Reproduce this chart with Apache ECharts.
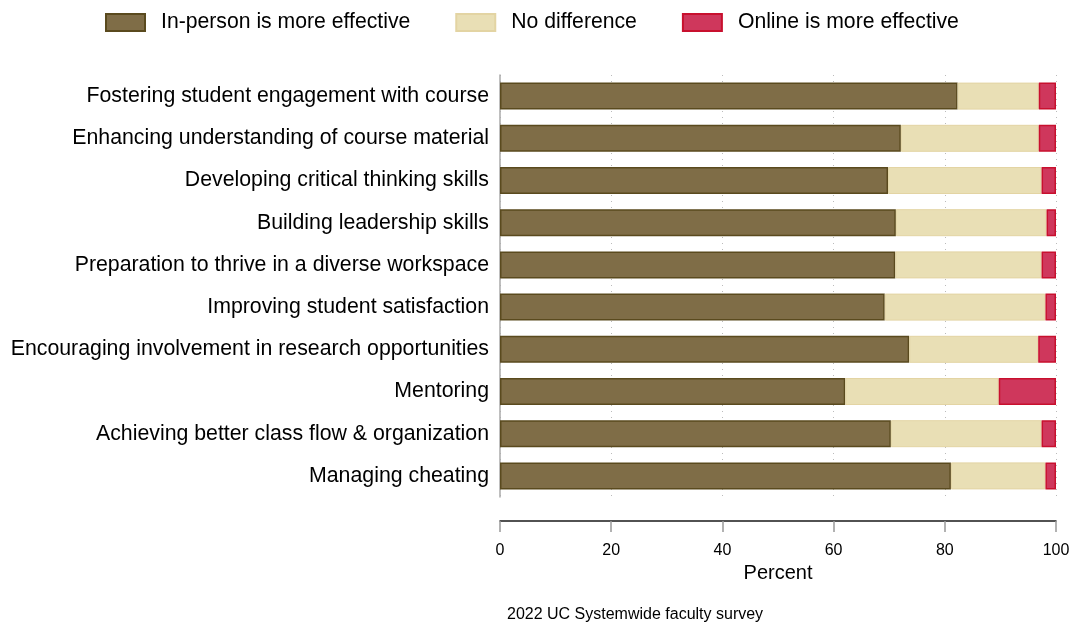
<!DOCTYPE html>
<html>
<head>
<meta charset="utf-8">
<script src="https://cdn.jsdelivr.net/npm/echarts@6/dist/echarts.min.js"></script>
<style>
html,body{margin:0;padding:0;background:#fff;}
#chart{width:1073px;height:625px;}
</style>
</head>
<body>
<div id="chart"></div>
<script>
var categories = [
  "Fostering student engagement with course",
  "Enhancing understanding of course material",
  "Developing critical thinking skills",
  "Building leadership skills",
  "Preparation to thrive in a diverse workspace",
  "Improving student satisfaction",
  "Encouraging involvement in research opportunities",
  "Mentoring",
  "Achieving better class flow & organization",
  "Managing cheating"
];
var seriesNames = ["In-person is more effective", "No difference", "Online is more effective"];
var inPerson = [82.3, 72.1, 69.8, 71.2, 71.1, 69.2, 73.6, 62.1, 70.3, 81.1];
var noDifference = [14.6, 24.8, 27.6, 27.1, 26.3, 28.9, 23.2, 27.6, 27.1, 17.0];
var online = [3.1, 3.1, 2.6, 1.7, 2.6, 1.9, 3.2, 10.3, 2.6, 1.9];
var xTicks = [0, 20, 40, 60, 80, 100];
var axisTitle = "Percent";
var caption = "2022 UC Systemwide faculty survey";

var FONT = "Liberation Sans, Arial, Helvetica, sans-serif";
var chart = echarts.init(document.getElementById('chart'), null, {renderer: 'canvas'});
var styles = [
  {color: '#7f6d47', borderColor: '#5a4a1e', borderWidth: 1.5},
  {color: '#e9dfb5', borderColor: '#e3d4a3', borderWidth: 1},
  {color: '#cf375c', borderColor: '#c8102e', borderWidth: 1.5}
];
var dataSets = [inPerson, noDifference, online];
var series = dataSets.map(function (d, i) {
  return {
    name: seriesNames[i],
    type: 'bar',
    stack: 'total',
    barWidth: 27,
    data: d,
    itemStyle: styles[i],
    emphasis: {disabled: true}
  };
});

chart.setOption({
  animation: false,
  backgroundColor: '#ffffff',
  textStyle: {fontFamily: FONT},
  legend: {
    left: 105,
    top: 12,
    padding: 0,
    itemWidth: 39,
    itemHeight: 17,
    itemGap: 45,
    icon: 'rect',
    textStyle: {fontSize: 21.2, color: '#000', fontFamily: FONT, padding: [0, 0, 0, 11]},
    data: seriesNames
  },
  grid: {left: 500, right: 17, top: 75, bottom: 128, containLabel: false},
  xAxis: {
    type: 'value',
    min: 0,
    max: 100,
    interval: 20,
    offset: 24,
    name: axisTitle,
    nameLocation: 'middle',
    nameGap: 42,
    nameTextStyle: {fontSize: 20, color: '#000', fontFamily: FONT},
    axisLine: {show: true, lineStyle: {color: '#1a1a1a', width: 1.5}},
    axisTick: {show: true, length: 11, lineStyle: {color: '#999', width: 1.5}},
    axisLabel: {
      fontSize: 16, color: '#000', fontFamily: FONT, margin: 22,
      formatter: function (v) { return xTicks.indexOf(v) >= 0 ? String(v) : ''; }
    },
    splitLine: {show: true, lineStyle: {color: '#bbbbbb', type: [1, 5], width: 1}}
  },
  yAxis: {
    type: 'category',
    inverse: true,
    data: categories,
    axisLine: {show: true, lineStyle: {color: '#aaaaaa', width: 1.5}},
    axisTick: {show: false},
    axisLabel: {fontSize: 21.3, color: '#000', fontFamily: FONT, margin: 11}
  },
  graphic: [{
    type: 'text',
    left: 507,
    top: 607,
    style: {text: caption, fontSize: 16, fill: '#000', fontFamily: FONT}
  }],
  series: series
});
</script>
</body>
</html>
